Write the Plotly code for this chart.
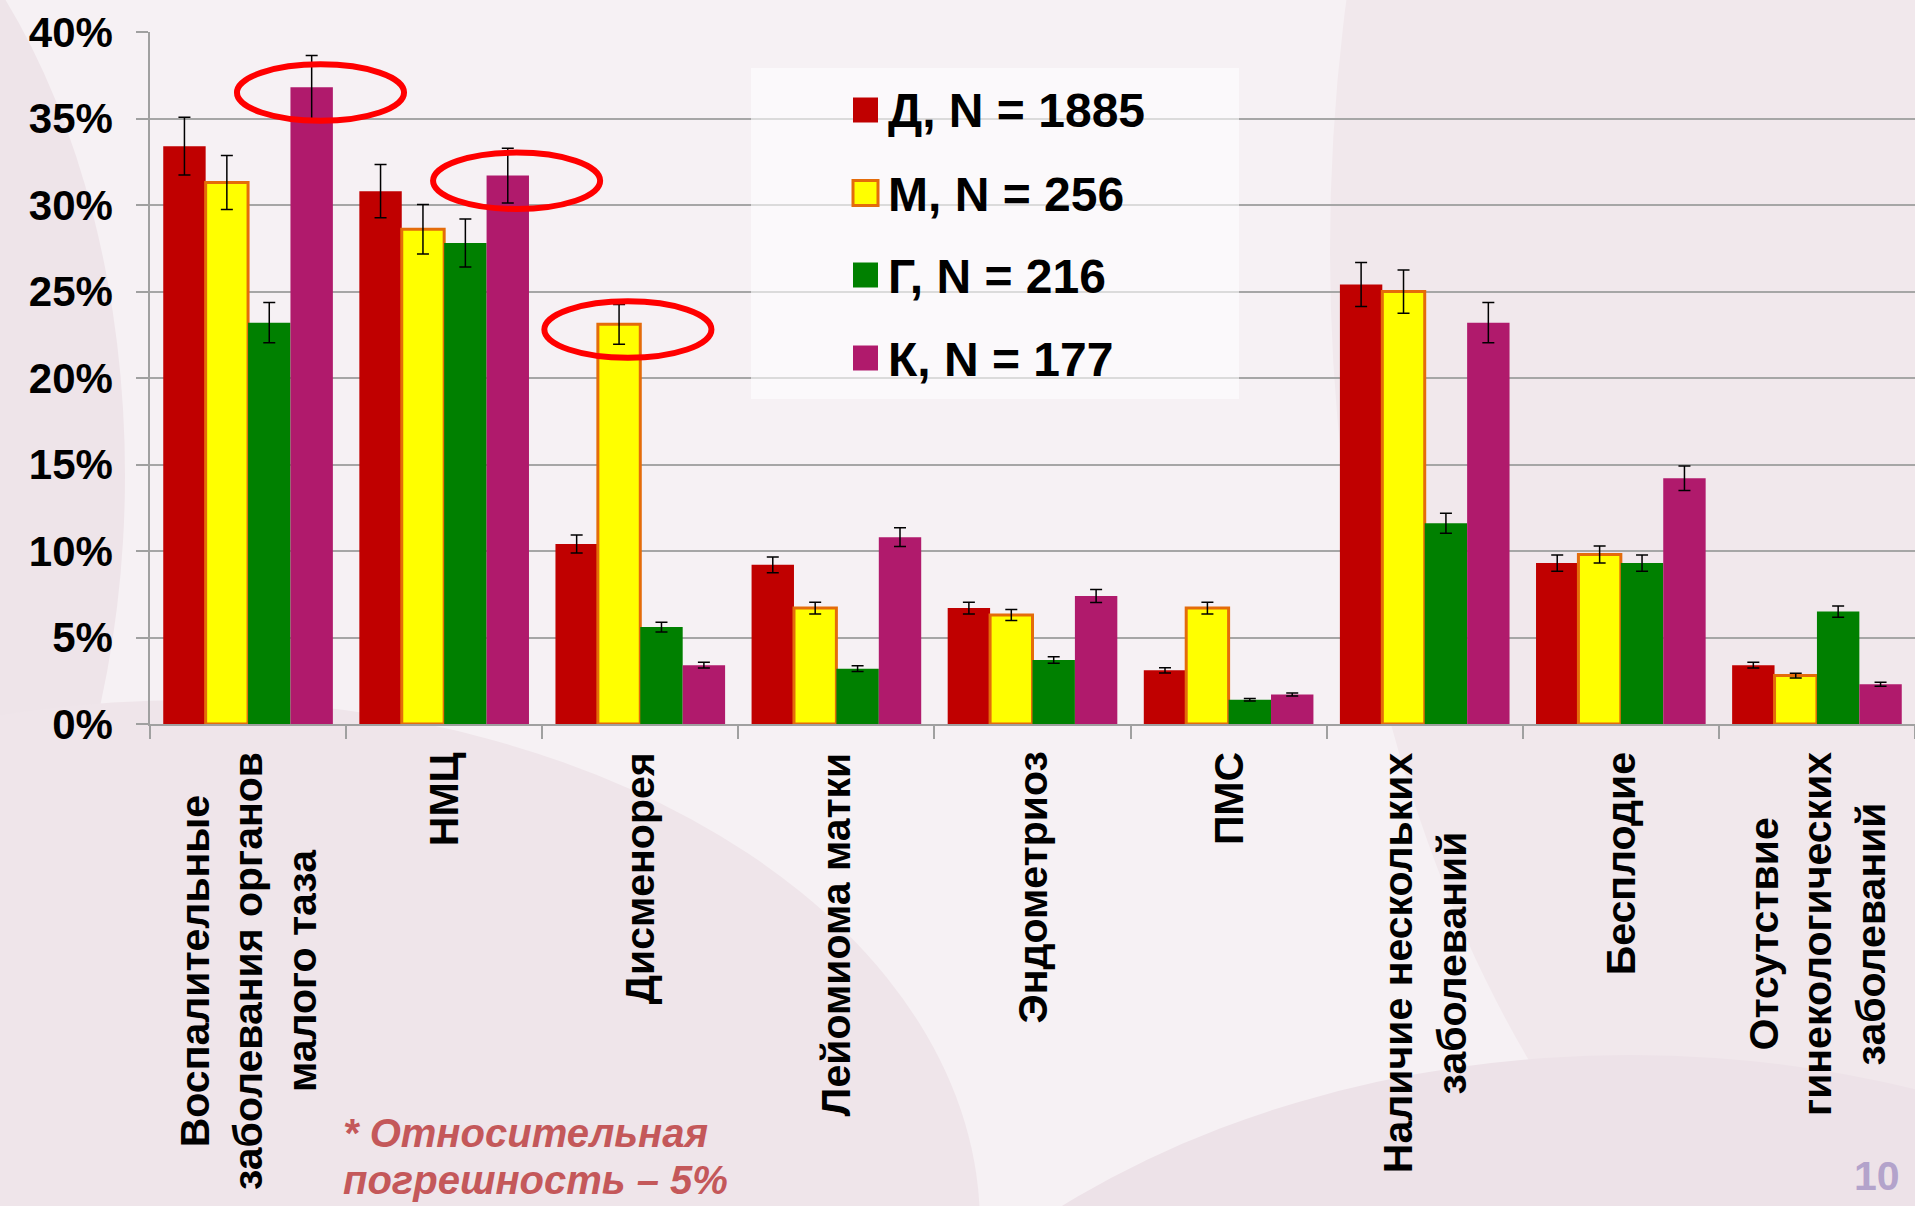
import plotly.graph_objects as go

# ---------------- data ----------------
categories = [
    "Воспалительные\nзаболевания органов\nмалого таза",
    "НМЦ",
    "Дисменорея",
    "Лейомиома матки",
    "Эндометриоз",
    "ПМС",
    "Наличие нескольких\nзаболеваний",
    "Бесплодие",
    "Отсутствие\nгинекологических\nзаболеваний",
]
series_names = ["Д, N = 1885", "М, N = 256", "Г, N = 216", "К, N = 177"]
values_D = [33.4, 30.8, 10.4, 9.2, 6.7, 3.1, 25.4, 9.3, 3.4]
values_M = [31.3, 28.6, 23.1, 6.7, 6.3, 6.7, 25.0, 9.8, 2.8]
values_G = [23.2, 27.8, 5.6, 3.2, 3.7, 1.4, 11.6, 9.3, 6.5]
values_K = [36.8, 31.7, 3.4, 10.8, 7.4, 1.7, 23.2, 14.2, 2.3]
relative_error_pct = 5
y_ticks = [0, 5, 10, 15, 20, 25, 30, 35, 40]
y_tick_labels = ["0%", "5%", "10%", "15%", "20%", "25%", "30%", "35%", "40%"]
highlights = [(0, 3), (1, 3), (2, 1)]  # (category index, series index)
footnote_lines = ["* Относительная", "погрешность – 5%"]
page_number = "10"

series_values = [values_D, values_M, values_G, values_K]
fill_colors = ["#C00000", "#FFFF00", "#008000", "#B01A6C"]
line_colors = ["#C00000", "#E46C0A", "#008000", "#B01A6C"]
line_widths = [0, 3, 0, 0]

# ---------------- layout geometry ----------------
W, H = 1915, 1206
PAPER = "#F6F1F4"
PL, PR, PT, PB = 150, 1915, 32, 724  # plot area in page pixels
ML, MR, MT, MB = PL, W - PR, PT, H - PB
BARGAP = 0.135


def px(x):
    return (x - PL) / (PR - PL)


def py(y):
    return (PB - y) / (PB - PT)


FONT = "Liberation Sans, Arial, sans-serif"
x_keys = [c.replace("\n", " ") for c in categories]

fig = go.Figure()
for name, vals, fc, lc, lw in zip(series_names, series_values, fill_colors, line_colors, line_widths):
    fig.add_trace(go.Bar(
        x=x_keys, y=vals, name=name,
        marker=dict(color=fc, line=dict(color=lc, width=lw)),
        error_y=dict(type="percent", value=relative_error_pct, color="black",
                     thickness=1.5, width=6),
        showlegend=False,
    ))

shapes = []
# decorative background
bg = [
    (-700, -200, 125, 1150, "#EEE4E9"),
    (-600, 700, 980, 1750, "#EFE5EA"),
    (1330, -900, 2700, 1400, "#F1E8EC"),
    (760, 1055, 2500, 2300, "#EDE2E8"),
]
for x0, y0, x1, y1, col in bg:
    shapes.append(dict(type="circle", xref="paper", yref="paper",
                       x0=px(x0), x1=px(x1), y0=py(y1), y1=py(y0),
                       fillcolor=col, line=dict(width=0), layer="below"))

# legend box (semi-transparent)
shapes.append(dict(type="rect", xref="paper", yref="paper",
                   x0=px(751), x1=px(1239), y0=py(399), y1=py(68),
                   fillcolor="rgba(255,255,255,0.6)", line=dict(width=0), layer="above"))

annotations = []
row_y = [110, 193, 275, 358]
for name, fc, lc, lw, yc in zip(series_names, fill_colors, line_colors, line_widths, row_y):
    shapes.append(dict(type="rect", xref="paper", yref="paper",
                       x0=px(853), x1=px(878), y0=py(yc + 12.5), y1=py(yc - 12.5),
                       fillcolor=fc, line=dict(color=lc, width=lw),
                       layer="above"))
    annotations.append(dict(text=name, xref="paper", yref="paper",
                            x=px(886), y=py(yc + 1), xanchor="left", yanchor="middle",
                            showarrow=False,
                            font=dict(family=FONT, size=48, color="black", weight="bold")))

# highlight ellipses around selected bars
slot = (1 - BARGAP) / len(series_names)
for ci, si in highlights:
    xc = ci - (1 - BARGAP) / 2 + slot * (si + 0.5) + 0.045
    yc = series_values[si][ci] - 0.3
    shapes.append(dict(type="circle", xref="x", yref="y",
                       x0=xc - 0.426, x1=xc + 0.426, y0=yc - 1.63, y1=yc + 1.63,
                       line=dict(color="#FF0000", width=6), fillcolor="rgba(0,0,0,0)",
                       layer="above"))

# category labels (rotated, centred multi-line)
for key, cat in zip(x_keys, categories):
    annotations.append(dict(text=cat.replace("\n", "<br>"), x=key, xref="x",
                            y=0, yref="paper", yanchor="top", xanchor="center",
                            yshift=-26, textangle=-90, align="center", showarrow=False,
                            font=dict(family=FONT, size=41, color="black", weight="bold")))

# footnote
for line, yc in zip(footnote_lines, [1133, 1180]):
    annotations.append(dict(text=line, xref="paper", yref="paper",
                            x=px(341), y=py(yc), xanchor="left", yanchor="middle",
                            showarrow=False,
                            font=dict(family=FONT, size=40, color="#C4585A",
                                      weight="bold", style="italic")))

annotations.append(dict(text=page_number, xref="paper", yref="paper",
                        x=px(1902), y=py(1176), xanchor="right", yanchor="middle",
                        showarrow=False,
                        font=dict(family=FONT, size=41, color="#B3A3CB", weight="bold")))

fig.update_layout(
    width=W, height=H, autosize=False,
    margin=dict(l=ML, r=MR, t=MT, b=MB, pad=0),
    paper_bgcolor=PAPER, plot_bgcolor="rgba(0,0,0,0)",
    barmode="group", bargap=BARGAP, bargroupgap=0,
    shapes=shapes, annotations=annotations,
    showlegend=False,
)
fig.update_xaxes(
    type="category", showticklabels=False, showline=True, linecolor="#A0A0A0",
    linewidth=1.5, ticks="outside", ticklen=13, tickcolor="#A0A0A0", tickwidth=1.5,
    tickson="boundaries", showgrid=False, zeroline=False, fixedrange=True,
    automargin=False,
)
fig.update_yaxes(
    range=[0, 40], tickmode="array", tickvals=y_ticks, ticktext=y_tick_labels,
    showline=True, automargin=False, fixedrange=True,
    linecolor="#A0A0A0", linewidth=1.5, ticks="outside", ticklen=12,
    tickcolor="#A0A0A0", tickwidth=1.5, showgrid=True, gridcolor="#A6A6A6",
    gridwidth=1.5, zeroline=False, ticklabelstandoff=15,
    tickfont=dict(family=FONT, size=42, color="black", weight="bold"),
)

fig.write_html(
    "out.html",
    config={"displayModeBar": False},
    post_script="document.body.style.margin='0px';"
                "document.body.style.background='" + PAPER + "';"
                "document.body.style.overflow='hidden';",
)
